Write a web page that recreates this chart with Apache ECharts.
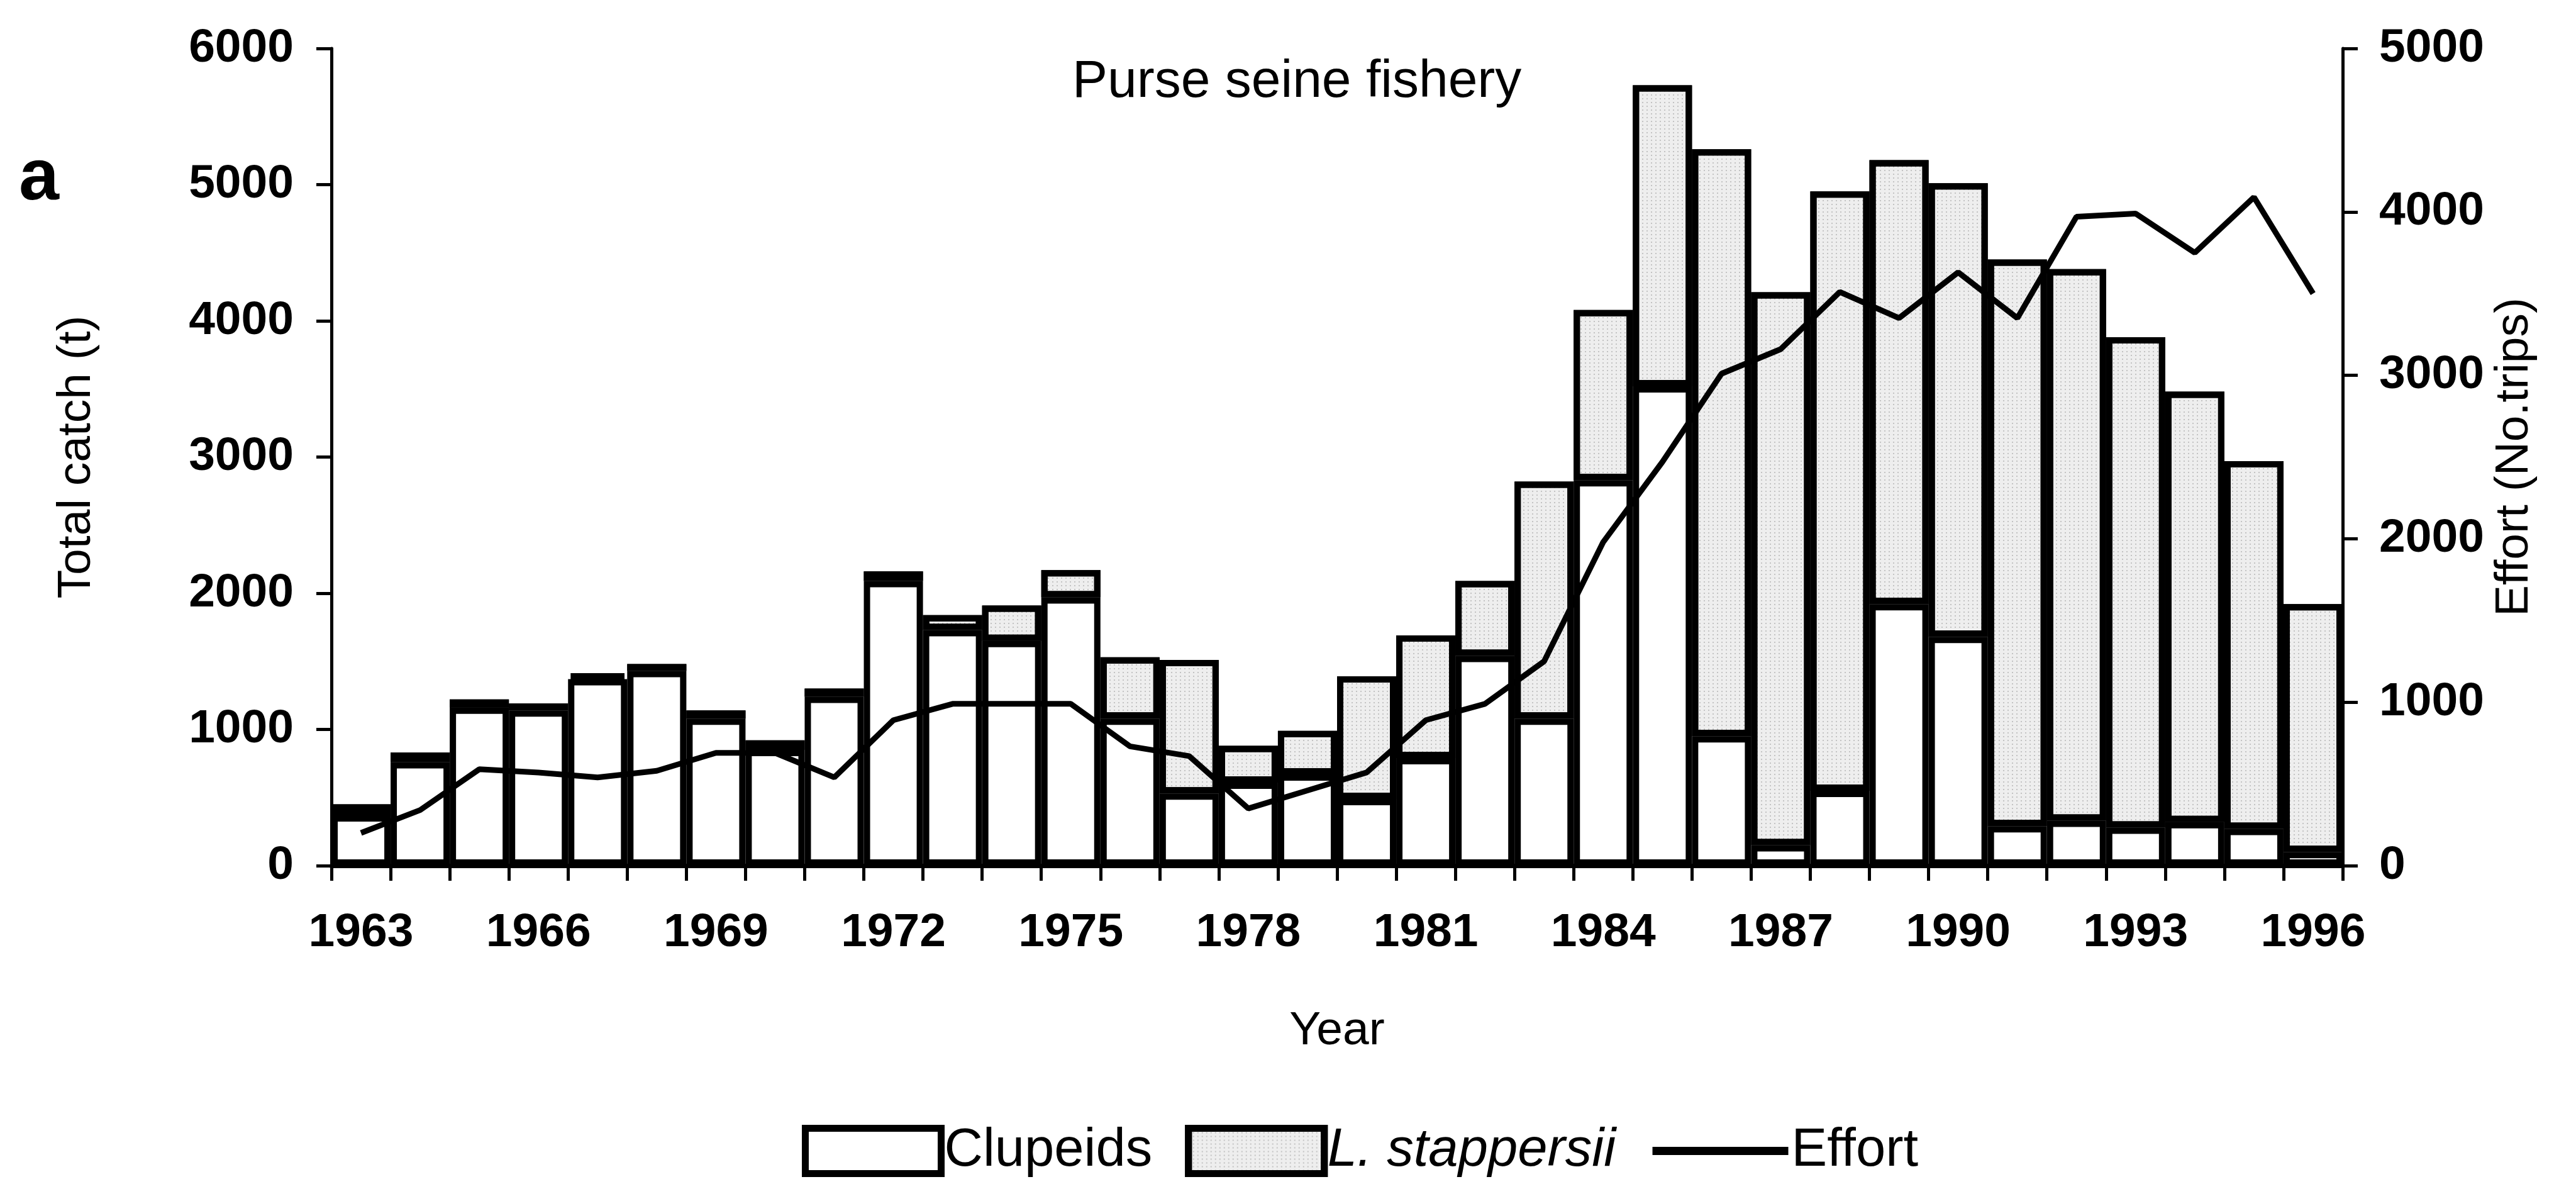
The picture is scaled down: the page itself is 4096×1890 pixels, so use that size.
<!DOCTYPE html>
<html lang="en">
<head>
    <meta charset="UTF-8">
    <title>Purse seine fishery</title>
    <style>
        html, body { margin: 0; padding: 0; background: #fff; }
    </style>
</head>
<body>
<!-- chart container, same size as the window -->
<div id="main" style="width: 4096px;height: 1890px;"></div>
<script src="https://cdn.jsdelivr.net/npm/echarts@6/dist/echarts.min.js"></script>
<script type="text/javascript">

    // categories
    var years = ['1963', '1964', '1965', '1966', '1967', '1968', '1969', '1970', '1971', '1972',
        '1973', '1974', '1975', '1976', '1977', '1978', '1979', '1980', '1981', '1982',
        '1983', '1984', '1985', '1986', '1987', '1988', '1989', '1990', '1991', '1992',
        '1993', '1994', '1995', '1996'];

    // catch of clupeids (t), bottom of each bar
    var clupeids = [370, 760, 1160, 1140, 1370, 1430, 1080, 850, 1240, 2090,
        1730, 1650, 1970, 1080, 530, 610, 670, 490, 790, 1540,
        1080, 2830, 3520, 950, 150, 550, 1920, 1680, 290, 330,
        280, 320, 270, 100];

    // catch of L. stappersii (t), stacked on top
    var stappersii = [80, 70, 60, 50, 40, 50, 60, 70, 60, 70,
        110, 260, 200, 450, 980, 270, 320, 900, 900, 550,
        1740, 1250, 2210, 4310, 4060, 4400, 3260, 3330, 4160, 4050,
        3600, 3160, 2700, 1820];

    // fishing effort (no. of trips), right axis
    var effort = [200, 340, 590, 570, 540, 580, 690, 690, 540, 890,
        990, 990, 990, 730, 670, 350, 460, 570, 890, 990,
        1250, 1980, 2470, 3010, 3160, 3510, 3350, 3630, 3350, 3970,
        3990, 3750, 4090, 3500];

    var font = "'Liberation Sans', Arial, sans-serif";

    // light grey stipple for L. stappersii
    var stipple = {
        symbol: 'rect',
        symbolSize: 1,
        dashArrayX: [2, 5],
        dashArrayY: [2, 4],
        rotation: 0,
        color: 'rgba(0,0,0,0.18)'
    };

    function plain(v) {
        return String(v);
    }

    var option = {
        backgroundColor: '#fff',
        animation: false,
        textStyle: { fontFamily: font, color: '#000' },
        title: {
            text: 'Purse seine fishery',
            left: 1700,
            top: 84,
            textStyle: { fontFamily: font, fontSize: 84, fontWeight: 'normal', color: '#000' }
        },
        graphic: [{
            type: 'text',
            left: 30,
            top: 228,
            style: { text: 'a', fontFamily: font, fontSize: 115, fontWeight: 'bold', fill: '#000' }
        }],
        legend: {
            left: 1270,
            top: 1782,
            itemWidth: 216,
            itemHeight: 72,
            itemGap: 52,
            textStyle: {
                fontFamily: font, fontSize: 85, color: '#000',
                rich: { it: { fontFamily: font, fontSize: 85, fontStyle: 'italic', color: '#000' } }
            },
            formatter: function (name) {
                return name === 'L. stappersii' ? '{it|' + name + '}' : name;
            },
            data: [
                { name: 'Clupeids', icon: 'rect', itemStyle: { color: '#fff', borderColor: '#000', borderWidth: 11 } },
                { name: 'L. stappersii', icon: 'rect', itemStyle: { color: '#eeeeee', borderColor: '#000', borderWidth: 11, decal: stipple } },
                { name: 'Effort', itemStyle: { color: 'rgba(0,0,0,0)', borderWidth: 0 }, lineStyle: { color: '#000', width: 13 } }
            ]
        },
        grid: {
            left: 527,
            right: 371,
            top: 77,
            bottom: 514
        },
        xAxis: {
            type: 'category',
            data: years,
            name: 'Year',
            nameLocation: 'middle',
            nameGap: 226,
            nameTextStyle: { fontFamily: font, fontSize: 75, color: '#000' },
            axisLine: { lineStyle: { color: '#000', width: 7 } },
            axisTick: { show: true, interval: 0, length: 24, lineStyle: { color: '#000', width: 5 } },
            axisLabel: { interval: 2, margin: 70, fontFamily: font, fontSize: 75, fontWeight: 'bold', color: '#000' },
            splitLine: { show: false }
        },
        yAxis: [{
            type: 'value',
            min: 0,
            max: 6000,
            interval: 1000,
            name: 'Total catch (t)',
            nameLocation: 'middle',
            nameRotate: 90,
            nameGap: 367,
            nameTextStyle: { fontFamily: font, fontSize: 75, color: '#000' },
            axisLine: { show: true, lineStyle: { color: '#000', width: 5 } },
            axisTick: { show: true, length: 24, lineStyle: { color: '#000', width: 5 } },
            axisLabel: { margin: 60, fontFamily: font, fontSize: 75, fontWeight: 'bold', color: '#000', formatter: plain },
            splitLine: { show: false }
        }, {
            type: 'value',
            position: 'right',
            min: 0,
            max: 5000,
            interval: 1000,
            name: 'Effort (No.trips)',
            nameLocation: 'middle',
            nameRotate: 90,
            nameGap: 141,
            nameTextStyle: { fontFamily: font, fontSize: 75, color: '#000' },
            axisLine: { show: true, lineStyle: { color: '#000', width: 5 } },
            axisTick: { show: true, length: 24, lineStyle: { color: '#000', width: 5 } },
            axisLabel: { margin: 58, fontFamily: font, fontSize: 75, fontWeight: 'bold', color: '#000', formatter: plain },
            splitLine: { show: false }
        }],
        series: [{
            name: 'Clupeids',
            type: 'bar',
            stack: 'catch',
            barCategoryGap: 0,
            itemStyle: { color: '#fff', borderColor: '#000', borderWidth: 10 },
            data: clupeids
        }, {
            name: 'L. stappersii',
            type: 'bar',
            stack: 'catch',
            barCategoryGap: 0,
            itemStyle: { color: '#eeeeee', borderColor: '#000', borderWidth: 10, decal: stipple },
            data: stappersii
        }, {
            name: 'Effort',
            type: 'line',
            yAxisIndex: 1,
            symbol: 'none',
            z: 5,
            lineStyle: { color: '#000', width: 9 },
            data: effort
        }]
    };

    var myChart = echarts.init(document.getElementById('main'));
    myChart.setOption(option);
</script>
</body>
</html>
